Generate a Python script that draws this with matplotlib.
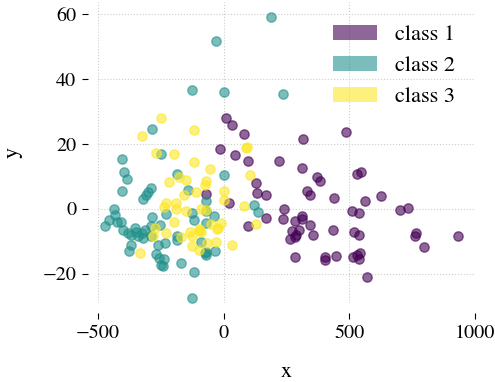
import matplotlib
matplotlib.use("Agg")
import matplotlib.pyplot as plt
from matplotlib.patches import Patch

plt.rcParams['font.family'] = ['STIXGeneral', 'DejaVu Serif']
plt.rcParams['mathtext.fontset'] = 'stix'

class1_x = [9, 31, 80, -15, 45, 97, 220, 316, 486,
            130, 134, 167, -70, 21, 240, 235, 95, 170,
            310, 371, 381, 330, 345, 440, 529, 545, 561, 626,
            310, 313, 285, 345, 298, 271, 289, 283, 264, 354, 435,
            511, 536, 519, 536, 285, 401, 401, 446, 515, 531, 540, 536, 570,
            700, 731, 760, 765, 797, 931]
class1_y = [28, 25.7, 23, 18.6, 16.5, 14.8, 14.7, 21.6, 23.6,
            7.9, 4.8, 4.3, 4.6, 1.9, 0, -3.1, -5.3, -2.7,
            12.7, 9.8, 8.5, 5.4, 4.2, 3.4, 10.9, 11.5, 2.3, 4.1,
            -2.1, -3.2, -3.8, -4.9, -6.5, -6.7, -8.0, -8.7, -9.3, -8.1, -6.5,
            -0.7, -1.3, -7.0, -8.1, -14.8, -14.9, -15.9, -14.6, -14.9, -14.2, -13.5, -15.4, -20.9,
            -0.2, 0.2, -8.3, -7.3, -11.9, -8.3]

class2_x = [187, -32, -125, 0, 235, -285, -405, -249, -395, -385, -405, -187, 0,
            -290, -301, -310, -321, -143, -70, 121, 137, -125, -118, -40, -70,
            -438, -434, -458, -472, -410, -425, -401, -284, -228, -255,
            -381, -367, -347, -341, -327, -314, -321, -354, -370, -377,
            -290, -260, -232, -271, -257, -239, -248, -243, -170, -119, -125,
            -186, -186, -89, -72, -36, -72, -72, -288, -76]
class2_y = [59.1, 51.7, 36.6, 36.1, 35.3, 24.7, 15.5, 16.9, 11.3, 9.2, 5.4, 10.7, 10.3,
            6.4, 5.3, 4.3, 3.0, 5.9, 2.5, 1.1, -1.0, -1.3, -3.4, -2.1, -4.3,
            0, -1.8, -3.4, -5.3, -4.2, -4.2, -6.5, -2.5, -1.5, -4.9,
            -7.5, -8, -7, -8.5, -7.5, -6.5, -9, -5.8, -11.1, -12.9,
            -8.5, -11, -10.4, -14, -15.2, -15.4, -17.3, -17.5, -16.6, -19.5, -27.4,
            -8.5, -9.6, -10.1, -14.2, -12.9, -13.2, -0.8, -5.4, -13.7]

class3_x = [-251, -325, -119, 88, 92, -269, -199, -119, -54, -178, -219, -150, 106,
            -69, -76, -160, -109, 0, 1, 80, -230, -239, -190, -188, -150, -89, -72,
            -52, -9, -25, -199, -334, -272, -228, -168, -133, -125, -98, -89,
            -125, -100, -65, -29, 31, 130, -281, -95, -23]
class3_y = [28, 22.4, 24.4, 18.9, 19.2, 17.3, 17, 14.6, 12.4, 9.7, 8.3, 8.9, 10.5,
            8.6, 7.4, 4.3, 5.3, 5.5, 2.6, 0.9, 1.8, 0.7, 1.8, -0.1, -0.8, 0.1, -0.3,
            -4.6, -4.4, -6.2, -4.0, -13.7, -6.0, -7.5, -8.7, -7.0, -8.5, -6.3, -7.0,
            -11.4, -12.8, -10.4, -10.1, -11.2, -4.8, -8.5, -6.5, -6]

labels = ['class 1', 'class 2', 'class 3']
colors = ['#440154', '#21918c', '#fde725']
xs = [class1_x, class2_x, class3_x]
ys = [class1_y, class2_y, class3_y]

fig = plt.figure(figsize=(4.95, 3.82), dpi=100)
ax = fig.add_axes([0.198, 0.207, 0.762, 0.788])

for x, y, c in zip(xs, ys, colors):
    ax.scatter(x, y, s=45, color=c, alpha=0.6, linewidths=1, zorder=3)

ax.set_xlim(-500, 1000)
ax.set_ylim(-29, 63.8)
ax.set_xticks([-500, 0, 500, 1000])
ax.set_yticks([-20, 0, 20, 40, 60])
ax.grid(True, linestyle=':', color='#cccccc', linewidth=0.8, zorder=0)

for s in ax.spines.values():
    s.set_visible(False)
ax.spines['bottom'].set_position(('outward', 7.2))
ax.spines['left'].set_position(('outward', 7.2))
ax.tick_params(axis='both', direction='out', length=4.5, width=0.8, labelsize=14.5, pad=4)

ax.set_xlabel('x', fontsize=16, labelpad=15)
ax.set_ylabel('y', fontsize=16, labelpad=14)

handles = [Patch(facecolor=c, alpha=0.6, edgecolor='none') for c in colors]
ax.legend(handles, labels, loc='upper right', bbox_to_anchor=(1.0, 0.99), frameon=False,
          fontsize=16, handlelength=2.0, handleheight=0.68, handletextpad=0.8,
          labelspacing=0.47, borderaxespad=0.5)

fig.savefig('out.png', dpi=100)
